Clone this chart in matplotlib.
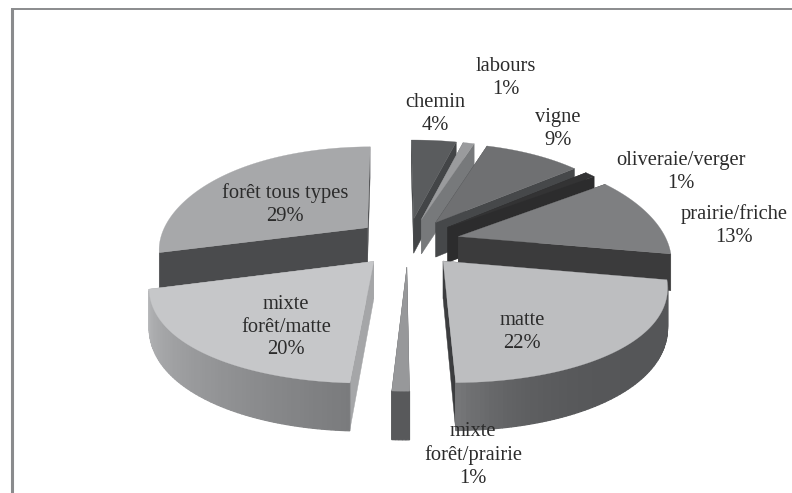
import numpy as np
import matplotlib
matplotlib.use("Agg")
import matplotlib.pyplot as plt

categories = ["chemin", "labours", "vigne", "oliveraie/verger", "prairie/friche",
              "matte", "mixte\nforêt/prairie", "mixte\nforêt/matte", "forêt tous types"]
values = [4, 1, 9, 1, 13, 22, 1, 20, 29]
label_xy = [(435, 114), (506, 78), (558, 129), (681, 172), (734, 226),
            (522, 332), (473, 455), (286, 327), (285, 205)]

top_colors = ["#5a5c5e", "#9a9b9d", "#6f7072", "#333334", "#7e7f81",
              "#bdbec0", "#97989a", "#c6c7c9", "#a7a8aa"]
face_colors = ["#434547", "#77797b", "#46484a", "#2c2c2d", "#3b3b3c",
               "#3c3d3f", "#58595b", "#a5a6a8", "#4a4b4d"]
wall_start = ["#555", "#777", "#555", "#333", "#555", "#555658", "#58595b", "#7a7b7d", "#999"]
wall_end = ["#555", "#777", "#555", "#333", "#555", "#757678", "#58595b", "#b3b4b6", "#999"]
wall_gamma = [1, 1, 1, 1, 1, 6, 1, 1, 1]

# projection parameters (figure pixels)
CX, CY = 408, 242
RX, RY = 209, 97
PB, PC = 0.195, 0.068
PY = 0.15
DEPTH = 36
EXPLODE = 0.25
ROTATE = np.radians(-0.6)


def project(u, v, z=0.0):
    u, v = np.asarray(u, float), np.asarray(v, float)
    sx = 1 + PB * v + PC * v ** 2
    sy = 1 / (1 - PY * v)
    return CX + RX * u * sx, CY + RY * v * sy + DEPTH * z * sx


def rgb(c):
    return np.array(matplotlib.colors.to_rgb(c))


fig = plt.figure(figsize=(7.92, 4.93), dpi=100, facecolor="white")
ax = fig.add_axes([0, 0, 1, 1])
ax.set_xlim(0, 792)
ax.set_ylim(493, 0)
ax.axis("off")

# chart frame: only its left and top sides fall inside the picture
ax.plot([12, 12], [8, 493], color="#8a8b8d", lw=2.2, solid_capstyle="butt", zorder=1)
ax.plot([11, 792], [8.5, 8.5], color="#8a8b8d", lw=1.4, solid_capstyle="butt", zorder=1)

fractions = np.array(values) / sum(values)
edges = np.concatenate([[0], np.cumsum(fractions)]) * 2 * np.pi + ROTATE
# back slices first, front slices last
order = [0, 1, 2, 3, 4, 8, 7, 6, 5]

for i in order:
    a0, a1 = edges[i], edges[i + 1]
    mid = (a0 + a1) / 2
    ou, ov = EXPLODE * np.sin(mid), -EXPLODE * np.cos(mid)
    t = np.linspace(a0, a1, max(6, int((a1 - a0) * 60)))
    u = ou + np.sin(t)
    v = ov - np.cos(t)
    # radial faces
    for k in (0, -1):
        x, y = project([ou, u[k], u[k], ou], [ov, v[k], v[k], ov], np.array([0, 0, 1, 1]))
        ax.fill(x, y, color=face_colors[i], lw=0.3, zorder=2)
    # outer wall, only on slices turned toward the viewer
    if np.cos(mid) < 0:
        c0, c1 = rgb(wall_start[i]), rgb(wall_end[i])
        for j in range(len(t) - 1):
            f = (j / max(1, len(t) - 2)) ** wall_gamma[i]
            col = c0 + (c1 - c0) * f
            x, y = project([u[j], u[j + 1], u[j + 1], u[j]],
                           [v[j], v[j + 1], v[j + 1], v[j]],
                           np.array([0, 0, 1, 1]))
            ax.fill(x, y, facecolor=col, edgecolor=col, lw=0.9, zorder=2)
    x, y = project(np.r_[ou, u], np.r_[ov, v])
    ax.fill(x, y, color=top_colors[i], lw=0.2, zorder=2)

for name, val, (lx, ly) in zip(categories, values, label_xy):
    ax.text(lx, ly, f"{name}\n{val}%", ha="center", va="center", family="Liberation Serif",
            fontsize=14.8, color="#2b2b2b", linespacing=1.28, zorder=5)

fig.savefig("out.png", dpi=100)
